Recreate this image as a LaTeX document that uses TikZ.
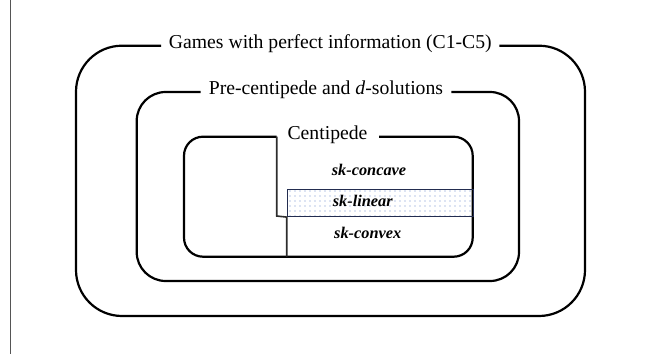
\documentclass[tikz,border=0pt]{standalone}
\usepackage{fontspec}
\setmainfont{Liberation Serif}
\usetikzlibrary{patterns.meta}
\definecolor{dotc}{RGB}{110,140,205}
\definecolor{navy}{RGB}{35,45,80}
\definecolor{divc}{RGB}{45,45,45}
\definecolor{sidec}{RGB}{85,85,85}
\begin{document}
\begin{tikzpicture}[x=1pt,y=-1pt,
  boxline/.style={line width=2.2pt, black},
  divline/.style={line width=1.6pt, divc, line join=miter},
  titlelab/.style={font=\fontsize{19.7}{22}\selectfont, inner ysep=0pt, text height=0.72em, text depth=0.22em},
  sklabel/.style={font=\fontsize{16.3}{19}\selectfont\bfseries\itshape, inner sep=0pt, anchor=base west},
  linbox/.style={draw=navy, line width=1.1pt, pattern={Dots[distance=5pt, radius=0.6pt]}, pattern color=dotc}]
\useasboundingbox (0,0) rectangle (670,356);
% side rule
\coordinate (s1) at (10.5,0);
\coordinate (s2) at (10.5,354);
\draw[sidec, line width=1pt] (s1) -- (s2);
% titles
\node[titlelab, inner xsep=7.5pt] (t1) at (330.3,45.7) {Games with perfect information (C1-C5)};
\node[titlelab, inner xsep=8pt] (t2) at (326,92) {Pre-centipede and \textit{d}-solutions};
\node[titlelab, inner xsep=0pt] (t3) at (327.5,136.7) {Centipede};
% outer box
\draw[boxline, rounded corners=46pt] (t1.west) -- (76,45.7) -- (76,316) -- (585,316) -- (585,45.7) -- (t1.east);
% middle box
\draw[boxline, rounded corners=29pt] (t2.west) -- (136.7,92) -- (136.7,281) -- (519,281) -- (519,92) -- (t2.east);
% divider
\coordinate (d1) at (276.7,136.7);
\coordinate (d2) at (276.7,216);
\coordinate (d3) at (286.7,256.7);
% inner box
\coordinate (i1) at (379,136.7);
\draw[boxline, rounded corners=19pt] (i1) -- (472.7,136.7) -- (472.7,256.7) -- (184,256.7) -- (184,136.7) -- (d1);
% linear band
\node[linbox, inner sep=0pt, minimum width=186pt, minimum height=26.7pt, anchor=north west] (lin) at (286.7,189.3) {};
\draw[divline] (d1) -- (d2) -- (lin.south west) -- (d3);
% labels
\node[sklabel] (cc) at (331.7,175.5) {sk-concave};
\node[sklabel] (ln) at (332.7,206) {sk-linear};
\node[sklabel] (cv) at (334,238) {sk-convex};
\end{tikzpicture}
\end{document}
